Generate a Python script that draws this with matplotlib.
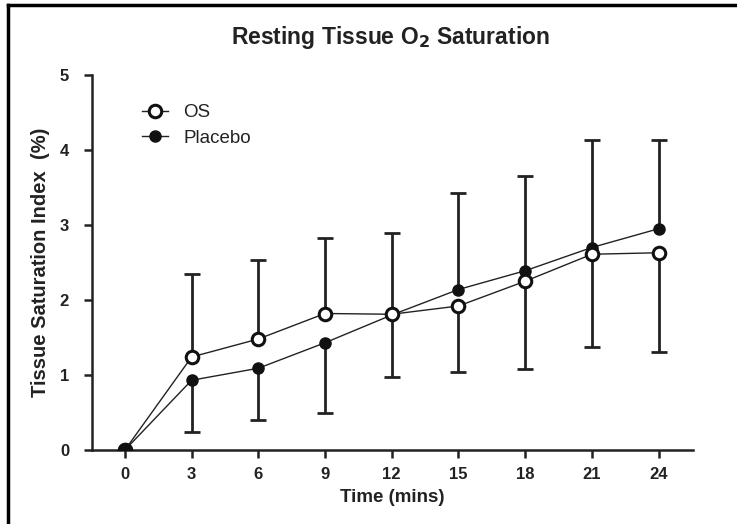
import matplotlib.pyplot as plt
import numpy as np

plt.rcParams['font.family'] = ['Liberation Sans', 'DejaVu Sans']

time = [0, 3, 6, 9, 12, 15, 18, 21, 24]
os_mean = [0, 1.24, 1.48, 1.82, 1.81, 1.92, 2.25, 2.61, 2.63]
pl_mean = [0, 0.93, 1.09, 1.43, 1.80, 2.14, 2.39, 2.70, 2.95]
# one-sided error bars (lower, upper)
os_lo = [0, 0, 0, 0, 0, 0.88, 1.17, 1.23, 1.32]
os_hi = [0, 1.11, 1.05, 1.00, 1.08, 0, 0, 0, 0]
pl_lo = [0, 0.69, 0.69, 0.93, 0.82, 0, 0, 0, 0]
pl_hi = [0, 0, 0, 0, 0, 1.29, 1.26, 1.43, 1.18]

fig = plt.figure(figsize=(7.37, 5.24), dpi=100)
ax = fig.add_axes([92 / 737, 74 / 524, 601 / 737, 375 / 524])

# border lines round the figure (left and top only visible)
fig.add_artist(plt.Line2D([8 / 737, 8 / 737], [0, 1 - 5 / 524], color='black', lw=2.5,
                          transform=fig.transFigure))
fig.add_artist(plt.Line2D([8 / 737, 1], [1 - 5 / 524, 1 - 5 / 524], color='black', lw=2.5,
                          transform=fig.transFigure))


def bars(x, y, lo, hi):
    x, y, lo, hi = map(np.asarray, (x, y, lo, hi))
    for i in range(len(x)):
        if lo[i] > 0:
            ax.vlines(x[i], y[i] - lo[i], y[i], color='#222222', lw=2, zorder=2)
            ax.plot(x[i], y[i] - lo[i], marker='_', ms=12, mew=2, color='#222222', zorder=2)
        if hi[i] > 0:
            ax.vlines(x[i], y[i], y[i] + hi[i], color='#222222', lw=2, zorder=2)
            ax.plot(x[i], y[i] + hi[i], marker='_', ms=12, mew=2, color='#222222', zorder=2)


bars(time, pl_mean, pl_lo, pl_hi)
bars(time, os_mean, os_lo, os_hi)

ax.plot(time, pl_mean, '-o', color='#222222', lw=1, ms=8, mfc='#111111',
        mec='#111111', label='Placebo', zorder=3)
ax.plot(time, os_mean, '-o', color='#222222', lw=1, ms=9, mfc='white',
        mec='#111111', mew=2.2, label='OS', zorder=4)
# the shared point at zero is drawn filled
ax.plot(time[:1], pl_mean[:1], 'o', color='#111111', ms=10, zorder=5)

ax.set_xlim(-1.48, 25.55)
ax.set_ylim(0, 5)
ax.set_xticks(time)
ax.set_yticks([0, 1, 2, 3, 4, 5])
for s in ['top', 'right']:
    ax.spines[s].set_visible(False)
for s in ['left', 'bottom']:
    ax.spines[s].set_linewidth(1.8)
    ax.spines[s].set_color('#222222')
ax.tick_params(width=1.8, length=5.5, color='#222222', labelsize=12)
ax.tick_params(axis='y', pad=11)
ax.tick_params(axis='x', pad=7)
for lab in ax.get_xticklabels() + ax.get_yticklabels():
    lab.set_fontweight('bold')
    lab.set_color('#222222')

ax.set_xlabel('Time (mins)', fontsize=13.5, fontweight='bold', color='#222222', labelpad=5)
ax.set_ylabel('Tissue Saturation Index  (%)', fontsize=14.5, fontweight='bold',
              color='#222222', labelpad=7)
fig.text(0.53, 0.928, 'Resting Tissue O$_\\mathbf{2}$ Saturation', ha='center', va='center',
         fontsize=16.5, fontweight='bold', color='#222222')

h, l = ax.get_legend_handles_labels()
leg = ax.legend(h[::-1], l[::-1], loc='upper left', bbox_to_anchor=(0.055, 0.967), frameon=False,
                fontsize=13.5, handlelength=1.4, labelspacing=0.45, handletextpad=0.8)
for t in leg.get_texts():
    t.set_color('#222222')

fig.savefig('out.png', dpi=100)
